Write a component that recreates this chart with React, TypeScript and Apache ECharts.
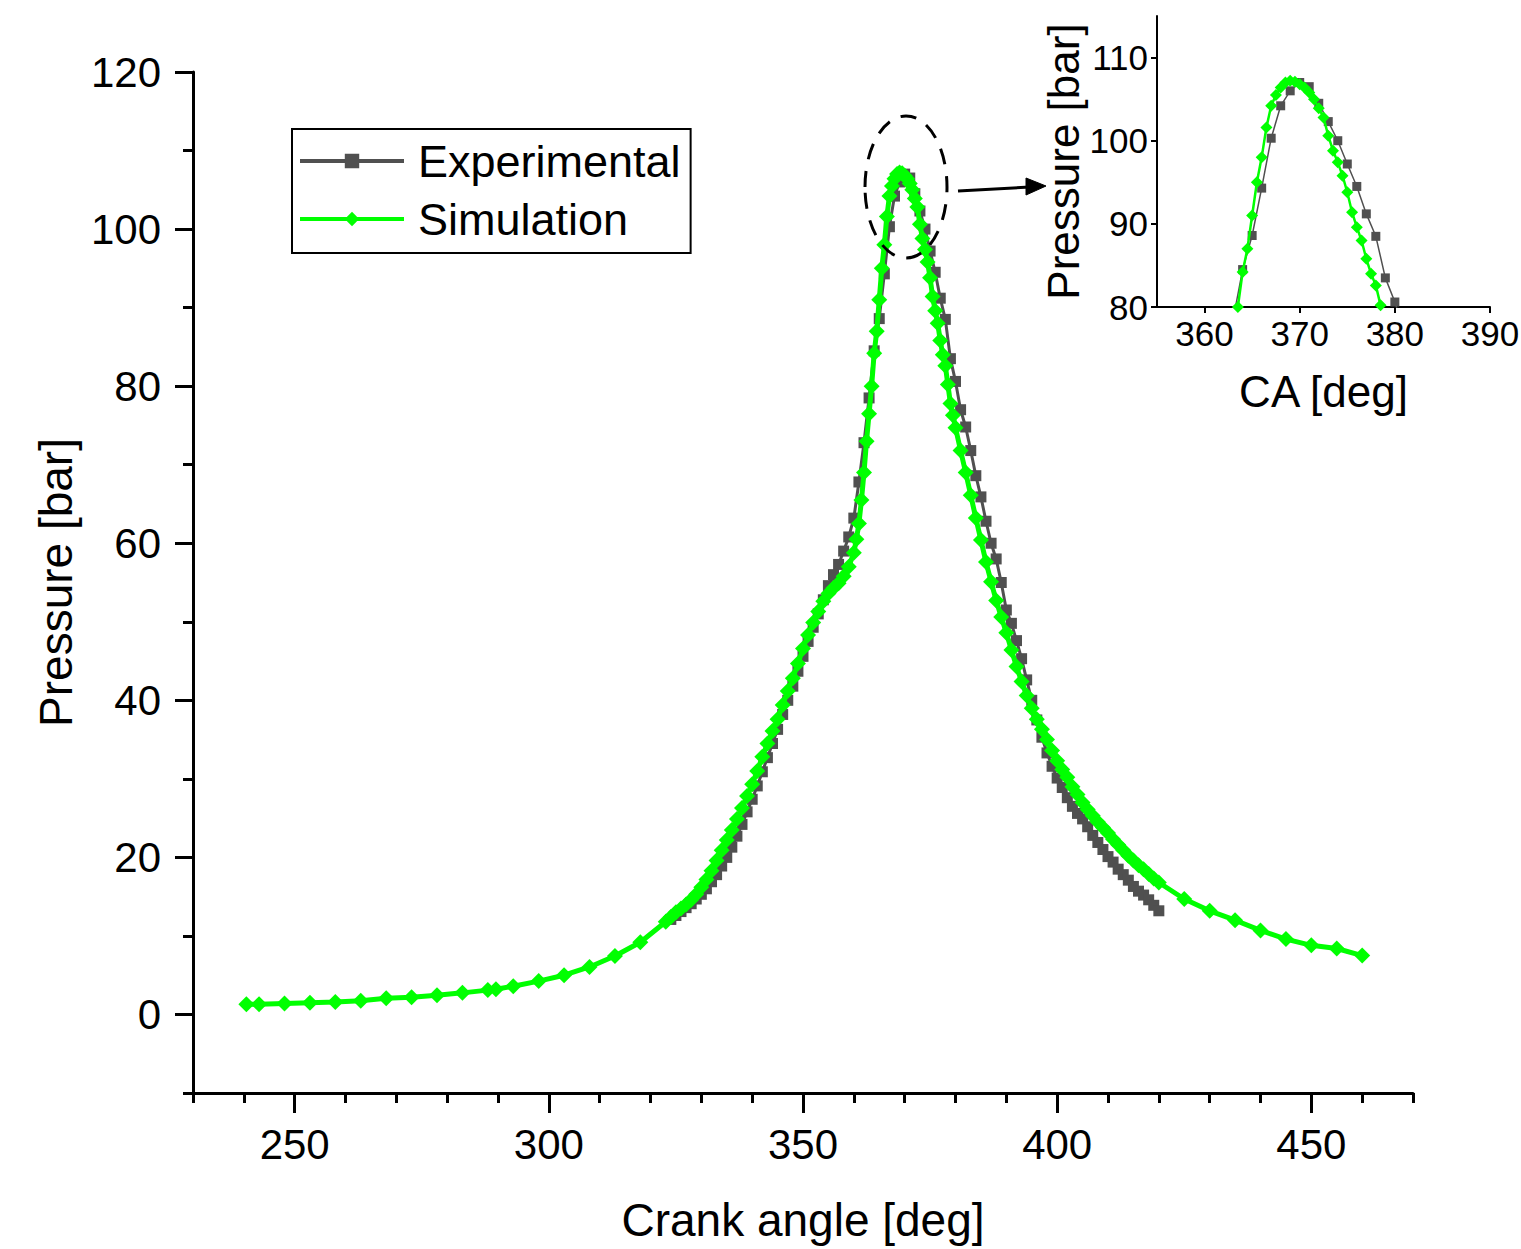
import React, { useEffect, useRef } from "react";
import * as echarts from "echarts";

// ---- data ----
const simAngle = [
  240.5, 243, 248, 253, 258, 263, 268, 273, 278, 283, 288, 289.6, 293, 298, 303, 308, 313, 318, 323,
  324, 325, 326, 327, 328, 329, 330, 331, 332, 333, 334, 335, 336, 337, 338, 339, 340, 341, 342, 343,
  344, 345, 346, 347, 348, 349, 350, 351, 352, 353, 354, 355, 356, 357, 358, 359, 360,
  360.5, 361, 361.5, 362, 362.5, 363, 363.5, 364, 364.5, 365, 365.5, 366, 366.5, 367, 367.5, 368,
  368.5, 369, 369.5, 370, 370.5, 371, 371.5, 372, 372.5, 373, 373.5, 374, 374.5, 375, 375.5, 376,
  376.5, 377, 377.5, 378, 378.5, 379, 379.5, 380,
  381, 382, 383, 384, 385, 386, 387, 388, 389, 390, 391, 392, 393, 394, 395, 396, 397, 398, 399, 400,
  401, 402, 403, 404, 405, 406, 407, 408, 409, 410, 411, 412, 413, 414, 415, 416, 417, 418, 419, 420,
  425, 430, 435, 440, 445, 450, 455, 460,
];
const simPressure = [
  1.3, 1.3, 1.4, 1.5, 1.6, 1.75, 2.05, 2.2, 2.45, 2.75, 3.1, 3.2, 3.6, 4.25, 5.0, 6.05, 7.45, 9.2, 11.8,
  12.4, 13.0, 13.5, 14.0, 14.6, 15.3, 16.2, 17.2, 18.3, 19.6, 20.9, 22.2, 23.5, 24.9, 26.3, 27.8, 29.3, 31.0, 32.8, 34.5,
  36.1, 37.6, 39.4, 41.2, 42.8, 44.7, 46.6, 48.3, 49.9, 51.3, 52.6, 53.6, 54.3, 54.9, 55.8, 57.0, 58.8,
  60.5, 62.5, 65.5, 69.0, 73.0, 76.5, 80.0, 84.2, 87.0, 91.0, 95.0, 98.0, 101.6, 104.2, 105.5, 106.4,
  107.0, 107.2, 107.1, 106.8, 106.4, 105.8, 105.0, 103.9, 102.8, 100.6, 98.8, 97.4, 95.8, 93.8, 91.4, 89.6,
  88.0, 85.8, 84.0, 82.6, 80.2, 77.8, 76.3, 74.7,
  71.8, 69.0, 66.1, 63.2, 60.4, 57.6, 55.1, 52.7, 50.6, 48.6, 46.4, 44.3, 42.4, 40.6, 39.0, 37.6, 36.3, 35.0, 33.6, 32.3,
  31.2, 30.2, 29.0, 28.0, 27.0, 26.1, 25.3, 24.5, 23.8, 23.1, 22.3, 21.6, 20.9, 20.2, 19.6, 19.0, 18.5, 17.9, 17.3, 16.8,
  14.7, 13.2, 12.0, 10.7, 9.6, 8.8, 8.4, 7.5,
];

const expAngle = [
  324, 325, 326, 327, 328, 329, 330, 331, 332, 333, 334, 335, 336, 337, 338, 339, 340, 341, 342, 343,
  344, 345, 346, 347, 348, 349, 350, 351, 352, 353, 354, 355, 356, 357, 358, 359, 360, 361, 362, 363,
  364, 365, 366, 367, 368, 369, 370, 371, 372, 373, 374, 375, 376, 377, 378, 379, 380, 381, 382, 383,
  384, 385, 386, 387, 388, 389, 390, 391, 392, 393, 394, 395, 396, 397, 398, 399, 400, 401, 402, 403,
  404, 405, 406, 407, 408, 409, 410, 411, 412, 413, 414, 415, 416, 417, 418, 419, 420,
];
const expPressure = [
  12.1, 12.6, 13.1, 13.6, 14.1, 14.7, 15.3, 16.0, 16.9, 17.8, 18.9, 20.0, 21.3, 22.7, 24.2, 25.8, 27.4, 29.1, 30.9, 32.7,
  34.5, 36.3, 38.2, 40.0, 41.8, 43.7, 45.6, 47.5, 49.3, 51.0, 52.8, 54.6, 56.0, 57.3, 59.0, 60.8, 63.2, 67.8, 72.8, 78.5,
  84.5, 88.6, 94.3, 100.3, 104.2, 106.0, 107.0, 106.5, 104.5, 102.3, 100.0, 97.2, 94.5, 91.2, 88.5, 83.5, 80.6, 77.0, 74.8, 71.8,
  68.6, 65.9, 62.8, 60.0, 58.0, 55.0, 51.5, 49.8, 47.6, 45.3, 42.6, 40.0, 37.5, 35.3, 33.3, 31.6, 30.1, 28.9, 27.6, 26.5,
  25.6, 24.9, 23.9, 22.8, 21.9, 21.0, 20.1, 19.4, 18.5, 17.8, 17.1, 16.3, 15.7, 15.2, 14.6, 13.9, 13.2,
];

const mainXTicks = [250, 300, 350, 400, 450];
const mainYTicks = [0, 20, 40, 60, 80, 100, 120];
const insetXTicks = [360, 370, 380, 390];
const insetYTicks = [80, 90, 100, 110];

const FONT = "'Liberation Sans', Arial, sans-serif";
const GRAY = "#505050";
const GREEN = "#00ff00";

function pairs(xs: number[], ys: number[]) {
  return xs.map((x, i) => [x, ys[i]]);
}

export default function App() {
  const ref = useRef<HTMLDivElement>(null);

  useEffect(() => {
    if (!ref.current) return;
    const chart = echarts.init(ref.current, null, { renderer: "svg" });
    const expData = pairs(expAngle, expPressure);
    const simData = pairs(simAngle, simPressure);

    const option: any = {
      animation: false,
      backgroundColor: "#fff",
      grid: [
        { left: 193, top: 72, width: 1220, height: 1021, outerBoundsMode: "none", containLabel: false },
        { left: 193, top: 72, width: 1220, height: 1021, outerBoundsMode: "none", containLabel: false },
        { left: 1157, top: 16, width: 333, height: 291, outerBoundsMode: "none", containLabel: false },
      ],
      xAxis: [
        {
          gridIndex: 0, type: "value", min: 230, max: 470, interval: 10,
          splitLine: { show: false },
          axisLine: { onZero: false, lineStyle: { color: "#000", width: 3 } },
          axisTick: { show: true, inside: false, length: 20, lineStyle: { color: "#000", width: 3 }, customValues: mainXTicks },
          axisLabel: { customValues: mainXTicks, fontSize: 42, fontFamily: FONT, color: "#000", margin: 30 },
          name: "Crank angle [deg]", nameLocation: "middle", nameGap: 104,
          nameTextStyle: { fontSize: 46, fontFamily: FONT, color: "#000" },
        },
        {
          gridIndex: 1, type: "value", min: 230, max: 470, interval: 10,
          splitLine: { show: false },
          axisLine: { show: false, onZero: false },
          axisTick: { show: true, inside: false, length: 10, lineStyle: { color: "#000", width: 3 } },
          axisLabel: { show: false },
        },
        {
          gridIndex: 2, type: "value", min: 355, max: 390, interval: 5,
          splitLine: { show: false },
          axisLine: { onZero: false, lineStyle: { color: "#000", width: 2 } },
          axisTick: { show: true, inside: false, length: 6, lineStyle: { color: "#000", width: 2 }, customValues: insetXTicks },
          axisLabel: { customValues: insetXTicks, fontSize: 35, fontFamily: FONT, color: "#000", margin: 9 },
          name: "CA [deg]", nameLocation: "middle", nameGap: 62,
          nameTextStyle: { fontSize: 44, fontFamily: FONT, color: "#000" },
        },
      ],
      yAxis: [
        {
          gridIndex: 0, type: "value", min: -10, max: 120, interval: 10,
          splitLine: { show: false },
          axisLine: { onZero: false, lineStyle: { color: "#000", width: 3 } },
          axisTick: { show: true, inside: false, length: 18, lineStyle: { color: "#000", width: 3 }, customValues: mainYTicks },
          axisLabel: { customValues: mainYTicks, fontSize: 42, fontFamily: FONT, color: "#000", margin: 32 },
          name: "Pressure [bar]", nameLocation: "middle", nameGap: 114,
          nameTextStyle: { fontSize: 46, fontFamily: FONT, color: "#000" },
        },
        {
          gridIndex: 1, type: "value", min: -10, max: 120, interval: 10,
          splitLine: { show: false },
          axisLine: { show: false, onZero: false },
          axisTick: { show: true, inside: false, length: 10, lineStyle: { color: "#000", width: 3 } },
          axisLabel: { show: false },
        },
        {
          gridIndex: 2, type: "value", min: 80, max: 115, interval: 5,
          splitLine: { show: false },
          axisLine: { onZero: false, lineStyle: { color: "#000", width: 2 } },
          axisTick: { show: true, inside: false, length: 6, lineStyle: { color: "#000", width: 2 }, customValues: insetYTicks },
          axisLabel: { customValues: insetYTicks, fontSize: 35, fontFamily: FONT, color: "#000", margin: 9 },
          name: "Pressure [bar]", nameLocation: "middle", nameGap: 68,
          nameTextStyle: { fontSize: 44, fontFamily: FONT, color: "#000" },
        },
      ],
      legend: {
        left: 292, top: 129, orient: "vertical",
        padding: [8, 10, 10, 6],
        itemWidth: 104, itemHeight: 18, itemGap: 10,
        borderColor: "#000", borderWidth: 2,
        textStyle: { fontSize: 45, fontFamily: FONT, color: "#000", lineHeight: 48, padding: [0, 0, 0, 9] },
        data: [
          { name: "Experimental", lineStyle: { width: 4, color: GRAY } },
          { name: "Simulation", lineStyle: { width: 4, color: GREEN } },
        ],
      },
      series: [
        {
          name: "Experimental", type: "line", xAxisIndex: 0, yAxisIndex: 0, data: expData,
          symbol: "rect", symbolSize: 11, showSymbol: true,
          lineStyle: { color: GRAY, width: 3 }, itemStyle: { color: GRAY }, z: 2,
        },
        {
          name: "Simulation", type: "line", xAxisIndex: 0, yAxisIndex: 0, data: simData,
          symbol: "diamond", symbolSize: 16, showSymbol: true,
          lineStyle: { color: GREEN, width: 5 }, itemStyle: { color: GREEN }, z: 3,
        },
        {
          name: "Experimental", type: "line", xAxisIndex: 2, yAxisIndex: 2, data: expData,
          symbol: "rect", symbolSize: 9, showSymbol: true, clip: true,
          lineStyle: { color: GRAY, width: 1.5 }, itemStyle: { color: GRAY }, z: 2,
        },
        {
          name: "Simulation", type: "line", xAxisIndex: 2, yAxisIndex: 2, data: simData,
          symbol: "diamond", symbolSize: 12, showSymbol: true, clip: true,
          lineStyle: { color: GREEN, width: 2.5 }, itemStyle: { color: GREEN }, z: 3,
        },
      ],
      graphic: [
        {
          type: "ellipse", shape: { cx: 906, cy: 187, rx: 41, ry: 71 }, z: 10,
          style: { fill: "none", stroke: "#000", lineWidth: 3, lineDash: [16, 12] },
        },
        {
          type: "line", shape: { x1: 958, y1: 191, x2: 1030, y2: 187 }, z: 10,
          style: { stroke: "#000", lineWidth: 3 },
        },
        {
          type: "polygon", shape: { points: [[1026, 178], [1046, 186], [1026, 195]] }, z: 10,
          style: { fill: "#000", stroke: "#000" },
        },
      ],
    };
    chart.setOption(option);
    return () => chart.dispose();
  }, []);

  return (
    <div style={{ position: "absolute", left: 0, top: 0, width: 1521, height: 1249, background: "#fff" }}>
      <div ref={ref} style={{ width: 1521, height: 1249 }} />
    </div>
  );
}
